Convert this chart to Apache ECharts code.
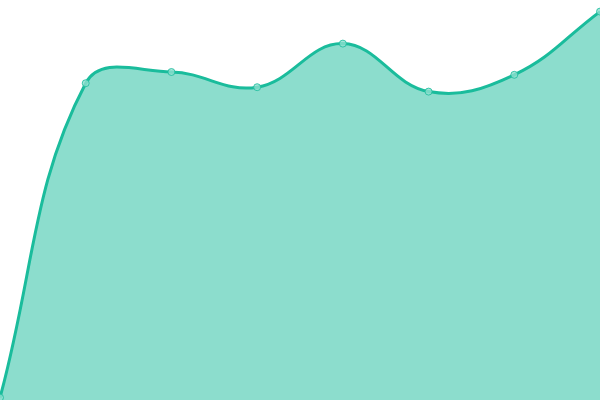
<!DOCTYPE html>
<html>
<head>
<meta charset="utf-8">
<script src="https://cdn.jsdelivr.net/npm/echarts@6/dist/echarts.min.js"></script>
<style>html,body{margin:0;padding:0;background:#fff;}#c{width:600px;height:400px;}</style>
</head>
<body>
<div id="c"></div>
<script>
const categories = ['1', '2', '3', '4', '5', '6', '7', '8'];
const values = [0.6, 79.2, 82.0, 78.2, 89.1, 77.1, 81.3, 97.1];

const TENSION = 0.4;
function buildPath(pts, rect) {
  const n = pts.length;
  const cps = pts.map((p, i) => {
    const prev = pts[i - 1] || p, next = pts[i + 1] || p;
    const d01 = Math.hypot(p[0] - prev[0], p[1] - prev[1]);
    const d12 = Math.hypot(next[0] - p[0], next[1] - p[1]);
    let s01 = d01 / (d01 + d12), s12 = d12 / (d01 + d12);
    if (!isFinite(s01)) s01 = 0;
    if (!isFinite(s12)) s12 = 0;
    const fa = TENSION * s01, fb = TENSION * s12;
    const cl = (c) => [Math.min(Math.max(c[0], rect.x), rect.x + rect.width), Math.min(Math.max(c[1], rect.y), rect.y + rect.height)];
    return {
      prev: cl([p[0] - fa * (next[0] - prev[0]), p[1] - fa * (next[1] - prev[1])]),
      next: cl([p[0] + fb * (next[0] - prev[0]), p[1] + fb * (next[1] - prev[1])])
    };
  });
  let d = 'M' + pts[0][0] + ' ' + pts[0][1];
  for (let i = 1; i < n; i++) {
    const a = cps[i - 1].next, b = cps[i].prev, p = pts[i];
    d += ' C' + a[0] + ' ' + a[1] + ' ' + b[0] + ' ' + b[1] + ' ' + p[0] + ' ' + p[1];
  }
  return d;
}

const chart = echarts.init(document.getElementById('c'), null, {renderer: 'canvas'});
chart.setOption({
  animation: false,
  grid: {left: 0, right: 0, top: 0, bottom: 0},
  xAxis: {type: 'category', data: categories, boundaryGap: false, show: false},
  yAxis: {type: 'value', min: 0, max: 100, show: false},
  series: [{
    type: 'custom',
    data: [[0, 0]],
    clip: false,
    z: 1,
    renderItem: function (params, api) {
      const pts = values.map((v, i) => api.coord([i, v]));
      const base = api.coord([0, 0])[1];
      const rect = params.coordSys;
      const linePath = buildPath(pts, rect);
      const areaPath = linePath + ' L' + pts[pts.length - 1][0] + ' ' + base + ' L' + pts[0][0] + ' ' + base + ' Z';
      return {
        type: 'group',
        children: [
          {type: 'path', shape: {pathData: areaPath}, style: {fill: 'rgba(26,188,156,0.5)', stroke: null}},
          {type: 'path', shape: {pathData: linePath}, style: {fill: null, stroke: '#1abc9c', lineWidth: 3}}
        ]
      };
    }
  }, {
    type: 'scatter',
    data: values,
    z: 3,
    symbol: 'circle',
    symbolSize: 7,
    itemStyle: {color: '#8fe0cf', borderColor: '#1abc9c', borderWidth: 1}
  }]
});
</script>
</body>
</html>
